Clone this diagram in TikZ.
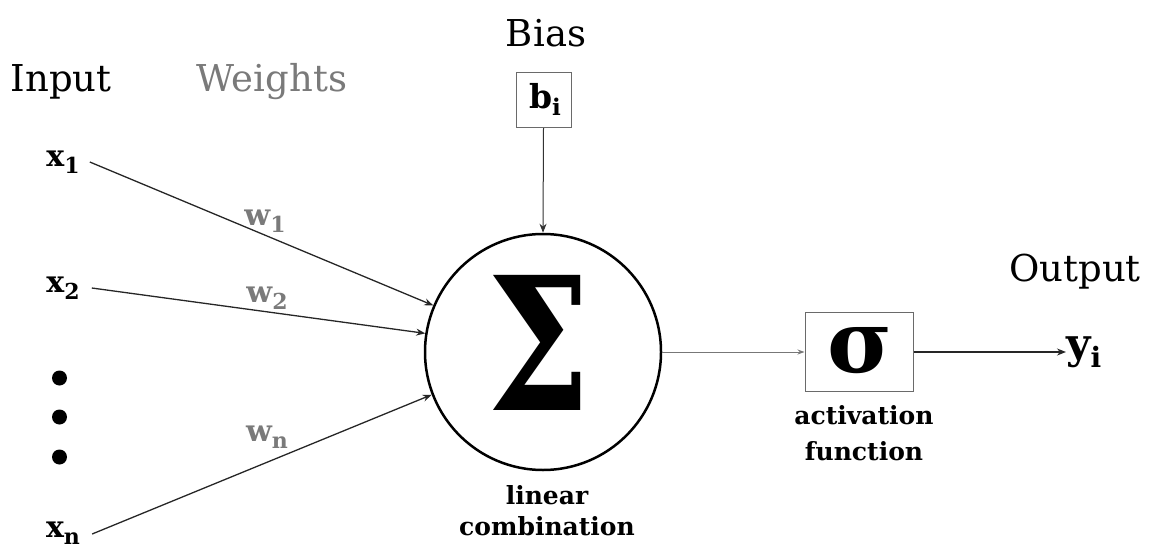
\documentclass[tikz,border=0pt]{standalone}
\usepackage{fontspec}
\setmainfont{DejaVu Serif}
\usetikzlibrary{arrows.meta}
\definecolor{wgray}{HTML}{7A7A7A}
\definecolor{boxgray}{HTML}{6A6A6A}
\definecolor{linegray}{HTML}{777777}
\newcommand{\lowsub}[3]{\raisebox{-#2pt}{\fontsize{#1}{#1}\selectfont #3}}
\begin{document}
\begin{tikzpicture}[x=1pt,y=-1pt,
  head/.style={font=\fontsize{37}{44}\selectfont, inner sep=0pt},
  lab/.style={font=\bfseries\fontsize{30}{36}\selectfont, inner sep=0pt},
  wt/.style={lab, text=wgray},
  captext/.style={font=\bfseries\fontsize{25}{32}\selectfont, align=center, inner sep=0pt},
  conn/.style={line width=1.3pt, draw=black!85, -{Stealth[length=9pt,width=7pt]}},
  thinbox/.style={draw=boxgray, line width=1pt, inner sep=0pt},
  dot/.style={circle, fill=black, minimum size=15pt, inner sep=0pt}
]
\useasboundingbox (0,0) rectangle (1154,551);

% headings
\node[head, anchor=base] (input) at (61,92) {Input};
\node[head, anchor=base, text=wgray] (weights) at (272,92) {Weights};
\node[head, anchor=base] (bias) at (546,47) {Bias};
\node[head, anchor=base] (output) at (1075,281) {Output};

% inputs
\node[lab] (x1) at (63,162) {x\lowsub{22}{7}{1}};
\node[lab] (x2) at (63,288) {x\lowsub{22}{7}{2}};
\node[lab] (xn) at (63,533) {x\lowsub{22}{7}{n}};
\node[dot] (d1) at (59.5,378) {};
\node[dot] (d2) at (59.5,417) {};
\node[dot] (d3) at (59.5,457) {};

% summation node
\node[circle, draw=black, line width=2.5pt, minimum size=236pt, inner sep=0pt] (sum) at (543,352) {};
\node[inner sep=0pt] (sigmabig) at (538.5,342.5) {\resizebox{103pt}{135pt}{\bfseries Σ}};
\node[captext] (lincomb) at (547,511) {linear\\[-1pt]combination};

% bias
\node[thinbox, minimum width=55pt, minimum height=55pt] (bbox) at (543.5,100) {};
\node[lab, font=\bfseries\fontsize{33}{36}\selectfont] (bi) at (545,99) {b\lowsub{23}{7}{i}};

% activation
\node[thinbox, minimum width=108pt, minimum height=79pt] (act) at (859,352) {};
\node[inner sep=0pt] (sigsmall) at (860,350.5) {\resizebox{65pt}{45pt}{\bfseries σ}};
\node[captext, align=center] (actlab) at (864,433) {activation\\[4pt]function};

% output
\node[font=\bfseries\fontsize{42}{46}\selectfont, inner sep=0pt, anchor=west] (yi) at (1066,352) {y\lowsub{28}{9}{i}};

% weights labels
\node[wt] (w1) at (265,221) {w\lowsub{22}{7}{1}};
\node[wt] (w2) at (267,298) {w\lowsub{22}{7}{2}};
\node[wt] (wn) at (267,437) {w\lowsub{22}{7}{n}};

% connectors
\draw[conn] ([xshift=10pt]x1.east) -- (sum.157.3);
\draw[conn] ([xshift=12pt]x2.east) -- (sum.171.8);
\draw[conn] ([xshift=12pt,yshift=-1pt]xn.east) -- (sum.201.8);
\draw[conn, line width=1pt, draw=black!80] (bbox.south) -- (sum.north);
\draw[line width=1pt, draw=linegray, -{Stealth[length=7pt,width=5pt]}] (sum.east) -- (act.west);
\draw[conn] (act.east) -- (yi.west);
\end{tikzpicture}
\end{document}
